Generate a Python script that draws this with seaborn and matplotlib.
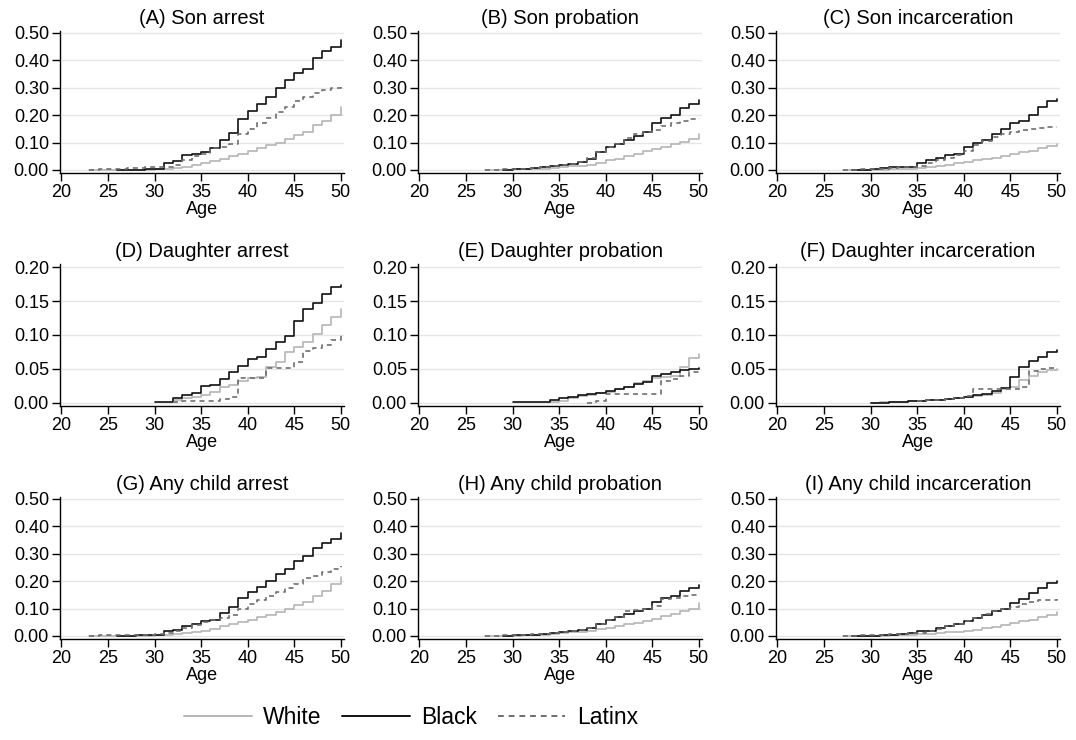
import numpy as np
import pandas as pd
import seaborn as sns
import matplotlib.pyplot as plt

races = ["White", "Black", "Latinx"]
titles = [
    "(A) Son arrest", "(B) Son probation", "(C) Son incarceration",
    "(D) Daughter arrest", "(E) Daughter probation", "(F) Daughter incarceration",
    "(G) Any child arrest", "(H) Any child probation", "(I) Any child incarceration",
]
x_ticks = [20, 25, 30, 35, 40, 45, 50]
y_ticks_wide = [0.0, 0.1, 0.2, 0.3, 0.4, 0.5]
y_ticks_narrow = [0.0, 0.05, 0.10, 0.15, 0.20]

# each series: (first age observed, cumulative share at each age up to 50)
son_arrest_white = (23, [0, 0, 0, 0, 0, 0.001, 0.001, 0.002, 0.004, 0.008, 0.012, 0.018, 0.025, 0.032,
                         0.04, 0.05, 0.06, 0.068, 0.08, 0.09, 0.1, 0.112, 0.127, 0.14, 0.165, 0.18, 0.2, 0.23])
son_arrest_black = (26, [0, 0, 0.001, 0.002, 0.005, 0.024, 0.033, 0.055, 0.06, 0.067, 0.08, 0.11, 0.135,
                         0.185, 0.215, 0.24, 0.265, 0.3, 0.33, 0.355, 0.37, 0.41, 0.435, 0.45, 0.475])
son_arrest_latinx = (23, [0.001, 0.002, 0.003, 0.005, 0.006, 0.008, 0.01, 0.01, 0.012, 0.02, 0.035, 0.05,
                          0.06, 0.08, 0.085, 0.095, 0.13, 0.15, 0.17, 0.19, 0.21, 0.23, 0.25, 0.265,
                          0.28, 0.29, 0.3, 0.31])

son_prob_white = (27, [0, 0, 0.001, 0.002, 0.003, 0.004, 0.005, 0.007, 0.01, 0.013, 0.016, 0.02, 0.025,
                       0.035, 0.04, 0.05, 0.06, 0.068, 0.075, 0.085, 0.095, 0.103, 0.112, 0.13])
son_prob_black = (29, [0.001, 0.003, 0.005, 0.008, 0.01, 0.014, 0.018, 0.022, 0.028, 0.04, 0.065, 0.085,
                       0.095, 0.11, 0.125, 0.14, 0.17, 0.19, 0.2, 0.225, 0.24, 0.255])
son_prob_latinx = (27, [0, 0.001, 0.002, 0.003, 0.005, 0.007, 0.01, 0.013, 0.017, 0.022, 0.03, 0.045,
                        0.065, 0.085, 0.095, 0.115, 0.13, 0.14, 0.145, 0.16, 0.17, 0.18, 0.185, 0.19])

son_inc_white = (27, [0, 0, 0, 0.001, 0.001, 0.002, 0.003, 0.004, 0.006, 0.01, 0.015, 0.02, 0.025, 0.03,
                      0.035, 0.04, 0.045, 0.05, 0.058, 0.065, 0.07, 0.08, 0.088, 0.095])
son_inc_black = (28, [0, 0, 0.002, 0.008, 0.01, 0.01, 0.012, 0.025, 0.035, 0.045, 0.055, 0.06, 0.085, 0.1,
                      0.11, 0.13, 0.15, 0.17, 0.18, 0.2, 0.23, 0.25, 0.26])
son_inc_latinx = (27, [0, 0.001, 0.002, 0.003, 0.005, 0.007, 0.01, 0.012, 0.015, 0.025, 0.035, 0.045,
                       0.055, 0.07, 0.09, 0.105, 0.12, 0.13, 0.14, 0.145, 0.15, 0.153, 0.155, 0.155])

dau_arrest_white = (32, [0.004, 0.007, 0.009, 0.011, 0.016, 0.024, 0.027, 0.033, 0.036, 0.038, 0.053, 0.06,
                         0.075, 0.082, 0.09, 0.102, 0.114, 0.127, 0.139])
dau_arrest_black = (30, [0.001, 0.002, 0.008, 0.011, 0.014, 0.025, 0.027, 0.035, 0.045, 0.055, 0.065, 0.068,
                         0.079, 0.09, 0.099, 0.12, 0.139, 0.147, 0.161, 0.171, 0.174])
dau_arrest_latinx = (32, [0.002, 0.003, 0.003, 0.003, 0.003, 0.006, 0.009, 0.037, 0.037, 0.037, 0.052, 0.052,
                          0.051, 0.06, 0.077, 0.081, 0.085, 0.092, 0.1])

dau_prob_white = (34, [0.002, 0.003, 0.007, 0.01, 0.012, 0.014, 0.016, 0.02, 0.024, 0.029, 0.033, 0.036,
                       0.038, 0.04, 0.053, 0.066, 0.072])
dau_prob_black = (30, [0.001, 0.001, 0.001, 0.002, 0.004, 0.007, 0.009, 0.011, 0.013, 0.014, 0.017, 0.02,
                       0.024, 0.028, 0.031, 0.04, 0.042, 0.046, 0.048, 0.05, 0.052])
dau_prob_latinx = (38, [0, 0.003, 0.013, 0.013, 0.013, 0.013, 0.013, 0.013, 0.033, 0.035, 0.04, 0.045, 0.05])

dau_inc_white = (30, [0, 0.001, 0.001, 0.002, 0.003, 0.003, 0.004, 0.005, 0.006, 0.007, 0.009, 0.01, 0.012,
                      0.015, 0.02, 0.024, 0.034, 0.04, 0.045, 0.048, 0.05])
dau_inc_black = (30, [0, 0, 0.002, 0.002, 0.003, 0.003, 0.004, 0.005, 0.006, 0.007, 0.009, 0.011, 0.013,
                      0.017, 0.022, 0.038, 0.053, 0.062, 0.068, 0.075, 0.078])
dau_inc_latinx = (35, [0.003, 0.004, 0.005, 0.006, 0.008, 0.01, 0.02, 0.02, 0.021, 0.021, 0.021, 0.023,
                       0.047, 0.05, 0.052, 0.052])

any_arrest_white = (23, [0, 0, 0, 0, 0, 0.001, 0.001, 0.002, 0.003, 0.006, 0.01, 0.015, 0.02, 0.027, 0.035,
                         0.043, 0.05, 0.058, 0.068, 0.077, 0.088, 0.1, 0.112, 0.125, 0.145, 0.165, 0.19, 0.215])
any_arrest_black = (26, [0.001, 0.001, 0.002, 0.003, 0.005, 0.017, 0.022, 0.038, 0.043, 0.053, 0.058, 0.085,
                         0.105, 0.14, 0.16, 0.18, 0.2, 0.225, 0.245, 0.275, 0.29, 0.32, 0.34, 0.355, 0.375])
any_arrest_latinx = (23, [0.001, 0.002, 0.002, 0.003, 0.004, 0.005, 0.005, 0.007, 0.01, 0.02, 0.03, 0.04,
                          0.05, 0.058, 0.065, 0.075, 0.1, 0.115, 0.13, 0.145, 0.16, 0.175, 0.19, 0.21,
                          0.22, 0.235, 0.245, 0.255])

any_prob_white = (27, [0, 0, 0.001, 0.001, 0.002, 0.003, 0.005, 0.007, 0.01, 0.013, 0.016, 0.02, 0.025,
                       0.03, 0.035, 0.042, 0.048, 0.055, 0.063, 0.072, 0.08, 0.09, 0.1, 0.12])
any_prob_black = (29, [0.001, 0.002, 0.003, 0.005, 0.008, 0.012, 0.015, 0.018, 0.022, 0.03, 0.045, 0.06,
                       0.07, 0.08, 0.09, 0.1, 0.125, 0.14, 0.145, 0.165, 0.175, 0.185])
any_prob_latinx = (27, [0, 0.001, 0.002, 0.003, 0.004, 0.006, 0.009, 0.012, 0.015, 0.018, 0.022, 0.03,
                        0.045, 0.06, 0.07, 0.09, 0.095, 0.1, 0.11, 0.135, 0.14, 0.145, 0.15, 0.15])

any_inc_white = (27, [0, 0, 0, 0.001, 0.001, 0.002, 0.003, 0.004, 0.006, 0.008, 0.01, 0.013, 0.016, 0.02,
                      0.023, 0.028, 0.033, 0.04, 0.046, 0.053, 0.06, 0.068, 0.078, 0.088])
any_inc_black = (28, [0, 0, 0.001, 0.005, 0.005, 0.008, 0.01, 0.017, 0.02, 0.03, 0.038, 0.045, 0.055, 0.065,
                      0.075, 0.09, 0.1, 0.12, 0.135, 0.155, 0.175, 0.195, 0.2])
any_inc_latinx = (27, [0, 0.001, 0.002, 0.003, 0.004, 0.006, 0.008, 0.01, 0.012, 0.017, 0.025, 0.035,
                       0.045, 0.055, 0.065, 0.08, 0.09, 0.1, 0.105, 0.115, 0.125, 0.13, 0.133, 0.135])

panels = [
    (son_arrest_white, son_arrest_black, son_arrest_latinx),
    (son_prob_white, son_prob_black, son_prob_latinx),
    (son_inc_white, son_inc_black, son_inc_latinx),
    (dau_arrest_white, dau_arrest_black, dau_arrest_latinx),
    (dau_prob_white, dau_prob_black, dau_prob_latinx),
    (dau_inc_white, dau_inc_black, dau_inc_latinx),
    (any_arrest_white, any_arrest_black, any_arrest_latinx),
    (any_prob_white, any_prob_black, any_prob_latinx),
    (any_inc_white, any_inc_black, any_inc_latinx),
]


def to_frame(series):
    rows = []
    for race, (start, vals) in zip(races, series):
        for age, v in zip(range(start, 51), vals):
            rows.append({"age": age, "risk": v, "race": race})
    return pd.DataFrame(rows)


sns.set_style("white")
plt.rcParams["font.family"] = ["Liberation Sans", "DejaVu Sans"]
plt.rcParams["text.color"] = "black"
plt.rcParams["axes.labelcolor"] = "black"
plt.rcParams["xtick.color"] = "black"
plt.rcParams["ytick.color"] = "black"

palette = {"White": "#b5b5b5", "Black": "#111111", "Latinx": "#6e6e6e"}
dashes = {"White": "", "Black": "", "Latinx": (3, 2.5)}

fig = plt.figure(figsize=(10.76, 7.40), dpi=100)
lefts = [60 / 1076, 418 / 1076, 776 / 1076]
bottoms = [1 - 173 / 740, 1 - 406 / 740, 1 - 639 / 740]
w, h = 284 / 1076, 142 / 740

handles = None
for i, (title, series) in enumerate(zip(titles, panels)):
    r, c = divmod(i, 3)
    ax = fig.add_axes([lefts[c], bottoms[r], w, h])
    df = to_frame(series)
    sns.lineplot(data=df, x="age", y="risk", hue="race", style="race",
                 hue_order=races, style_order=races, palette=palette, dashes=dashes,
                 estimator=None, errorbar=None, drawstyle="steps-post", linewidth=1.2,
                 legend=(i == 0), ax=ax)
    if i == 0:
        hs, ls = ax.get_legend_handles_labels()
        handles = [(hh, ll) for hh, ll in zip(hs, ls) if ll in races]
        ax.get_legend().remove()

    narrow_row = r == 1
    ticks = y_ticks_narrow if narrow_row else y_ticks_wide
    ax.set_yticks(ticks)
    ax.set_yticklabels([f"{t:.2f}" for t in ticks])
    if narrow_row:
        ax.set_ylim(-0.0045, 0.2045)
    else:
        ax.set_ylim(-0.011, 0.507)
    ax.set_xlim(19.85, 50.35)
    ax.set_xticks(x_ticks)
    ax.yaxis.grid(True, color="#e6e6e6", linewidth=1)
    ax.xaxis.grid(False)
    ax.set_axisbelow(True)
    for s in ["top", "right"]:
        ax.spines[s].set_visible(False)
    for s in ["left", "bottom"]:
        ax.spines[s].set_color("black")
        ax.spines[s].set_linewidth(1)
    ax.tick_params(axis="both", which="major", direction="out", length=6, width=1,
                   color="black", labelcolor="black", labelsize=13, pad=2, left=True, bottom=True)
    ax.set_xlabel("Age", fontsize=13, labelpad=0, color="black")
    ax.set_ylabel("")
    ax.set_title(title, fontsize=14.5, pad=5, color="black")

leg = fig.legend([hh for hh, _ in handles], [ll for _, ll in handles],
                 loc="center left", bbox_to_anchor=(168 / 1076, 1 - 718 / 740), ncol=3, frameon=False,
                 prop={"size": 16.5}, handlelength=2.95, handletextpad=0.5,
                 columnspacing=0.9, borderpad=0.2)
for line in leg.get_lines():
    line.set_linewidth(1.4)

fig.savefig("out.png", dpi=100)
